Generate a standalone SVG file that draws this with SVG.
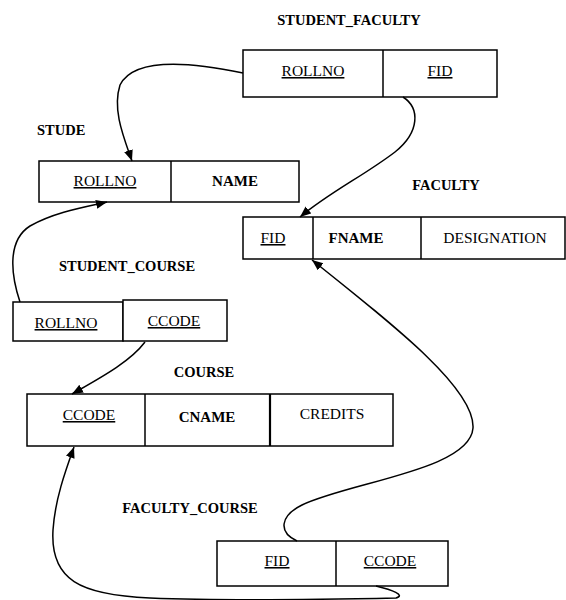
<svg xmlns="http://www.w3.org/2000/svg" width="566" height="600" viewBox="0 0 566 600">
<style>
.box{fill:#fff;stroke:#000;stroke-width:1.5}
.title{font-family:"Liberation Serif","Times New Roman",serif;font-weight:bold;font-size:14.5px;fill:#000}
.attr{font-family:"Liberation Serif","Times New Roman",serif;font-size:15.5px;fill:#000;text-anchor:middle}
.key{text-decoration:underline}
.b{font-weight:bold;font-size:15px}
.conn{fill:none;stroke:#000;stroke-width:1.5}
</style>
<defs>
<marker id="arr" markerUnits="userSpaceOnUse" markerWidth="12" markerHeight="10" refX="11" refY="4.5" orient="auto">
<path d="M0,0 L11,4.5 L0,9 z" fill="#000"/>
</marker>
</defs>
<rect width="566" height="600" fill="#fff"/>

<g id="student_faculty">
<text class="title" x="349" y="25" text-anchor="middle">STUDENT_FACULTY</text>
<rect class="box" x="243" y="50" width="254" height="47"/>
<line class="box" x1="383" y1="50" x2="383" y2="97"/>
<text class="attr key" x="313" y="76">ROLLNO</text>
<text class="attr key" x="440" y="76">FID</text>
</g>

<g id="stude">
<text class="title" x="37" y="135">STUDE</text>
<rect class="box" x="39" y="161" width="260" height="41"/>
<line class="box" x1="171" y1="161" x2="171" y2="202"/>
<text class="attr key" x="105" y="186">ROLLNO</text>
<text class="attr b" x="235" y="186">NAME</text>
</g>

<g id="faculty">
<text class="title" x="446" y="190" text-anchor="middle">FACULTY</text>
<rect class="box" x="243" y="217" width="322" height="42"/>
<line class="box" x1="313" y1="217" x2="313" y2="259"/>
<line class="box" x1="421" y1="217" x2="421" y2="259"/>
<text class="attr key" x="273" y="243">FID</text>
<text class="attr b" x="356" y="243">FNAME</text>
<text class="attr" x="495" y="243">DESIGNATION</text>
</g>

<g id="student_course">
<text class="title" x="127" y="271" text-anchor="middle">STUDENT_COURSE</text>
<rect class="box" x="13" y="302" width="110" height="39"/>
<rect class="box" x="123" y="300" width="104" height="41"/>
<text class="attr key" x="66" y="328">ROLLNO</text>
<text class="attr key" x="174" y="326">CCODE</text>
</g>

<g id="course">
<text class="title" x="204" y="377" text-anchor="middle">COURSE</text>
<rect class="box" x="27" y="394" width="366" height="52"/>
<line class="box" x1="145" y1="394" x2="145" y2="446"/>
<line class="box" x1="270" y1="394" x2="270" y2="446" style="stroke-width:2.2"/>
<text class="attr key" x="89" y="420">CCODE</text>
<text class="attr b" x="207" y="422">CNAME</text>
<text class="attr" x="332" y="419">CREDITS</text>
</g>

<g id="faculty_course">
<text class="title" x="190" y="513" text-anchor="middle">FACULTY_COURSE</text>
<rect class="box" x="217" y="541" width="231" height="45"/>
<line class="box" x1="336" y1="541" x2="336" y2="586"/>
<text class="attr key" x="277" y="566">FID</text>
<text class="attr key" x="390" y="566">CCODE</text>
</g>

<g id="connectors">
<path class="conn" d="M243,73 C200,64 135,55 120,85 C112,110 124,138 132,161" marker-end="url(#arr)"/>
<path class="conn" d="M403,97 C420,108 420,132 395,152 C365,175 330,192 300,217" marker-end="url(#arr)"/>
<path class="conn" d="M20,302 C10,272 8,240 30,226 C55,212 85,207 107,202" marker-end="url(#arr)"/>
<path class="conn" d="M145,342 C130,362 100,378 72,394" marker-end="url(#arr)"/>
<path class="conn" d="M297,541 C278,532 280,516 302,505 C350,482 470,470 473,428 C475,390 400,330 312,260" marker-end="url(#arr)"/>
<path class="conn" d="M376,586 C392,590 406,595 396,598 C300,600 200,600 150,598 C80,595 50,580 53,530 C55,500 65,472 74,447" marker-end="url(#arr)"/>
</g>
</svg>
